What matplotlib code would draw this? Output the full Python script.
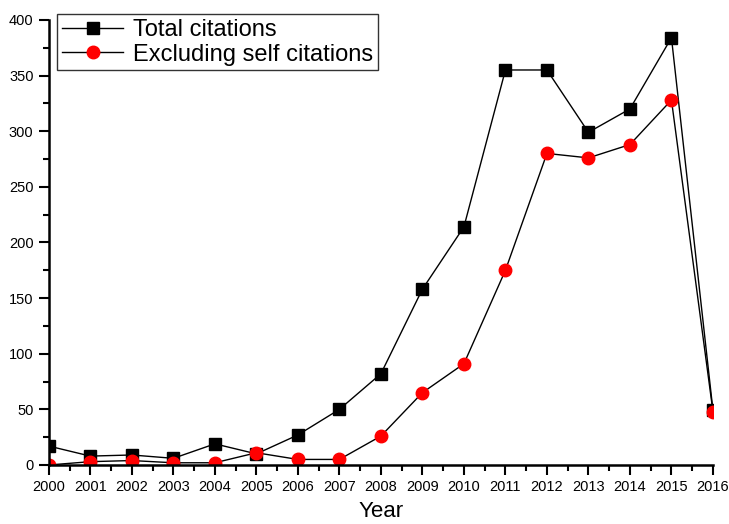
import matplotlib
matplotlib.use('Agg')
import matplotlib.pyplot as plt
from matplotlib.ticker import MultipleLocator

# data
years = [2000, 2001, 2002, 2003, 2004, 2005, 2006, 2007, 2008,
         2009, 2010, 2011, 2012, 2013, 2014, 2015, 2016]
total_citations = [17, 8, 9, 6, 19, 10, 27, 50, 82,
                   158, 214, 355, 355, 299, 320, 384, 49]
excl_self = [0, 3, 4, 2, 2, 11, 5, 5, 26,
             65, 91, 175, 280, 276, 288, 328, 48]

plt.rcParams['font.family'] = ['Liberation Sans', 'DejaVu Sans']

fig = plt.figure(figsize=(7.29, 5.24), dpi=100)
ax = fig.add_axes([0.067, 0.1126, 0.911, 0.8494])

ax.plot(years, total_citations, color='k', lw=1, marker='s', ms=8,
        label='Total citations')
ax.plot(years, excl_self, color='k', lw=1, marker='o', ms=9,
        mfc='red', mec='red', label='Excluding self citations')

ax.set_xlim(2000, 2016)
ax.set_ylim(0, 400)
ax.set_xticks(years)
ax.xaxis.set_minor_locator(MultipleLocator(0.5))
ax.yaxis.set_major_locator(MultipleLocator(50))
ax.yaxis.set_minor_locator(MultipleLocator(25))

for side in ['top', 'right']:
    ax.spines[side].set_visible(False)
for side in ['left', 'bottom']:
    ax.spines[side].set_linewidth(1.8)

ax.tick_params(which='major', length=7, width=1.5, labelsize=10.5, pad=4)
ax.tick_params(which='minor', length=4, width=1.5)
ax.set_xlabel('Year', fontsize=16, labelpad=5)

leg = ax.legend(loc='upper left', bbox_to_anchor=(0.0125, 1.013), fontsize=17,
                frameon=True, fancybox=False, edgecolor='k',
                handlelength=2.6, borderpad=0.2, labelspacing=0.12,
                handletextpad=0.4, borderaxespad=0)
leg.get_frame().set_linewidth(1)

fig.savefig('out.png', dpi=100)
